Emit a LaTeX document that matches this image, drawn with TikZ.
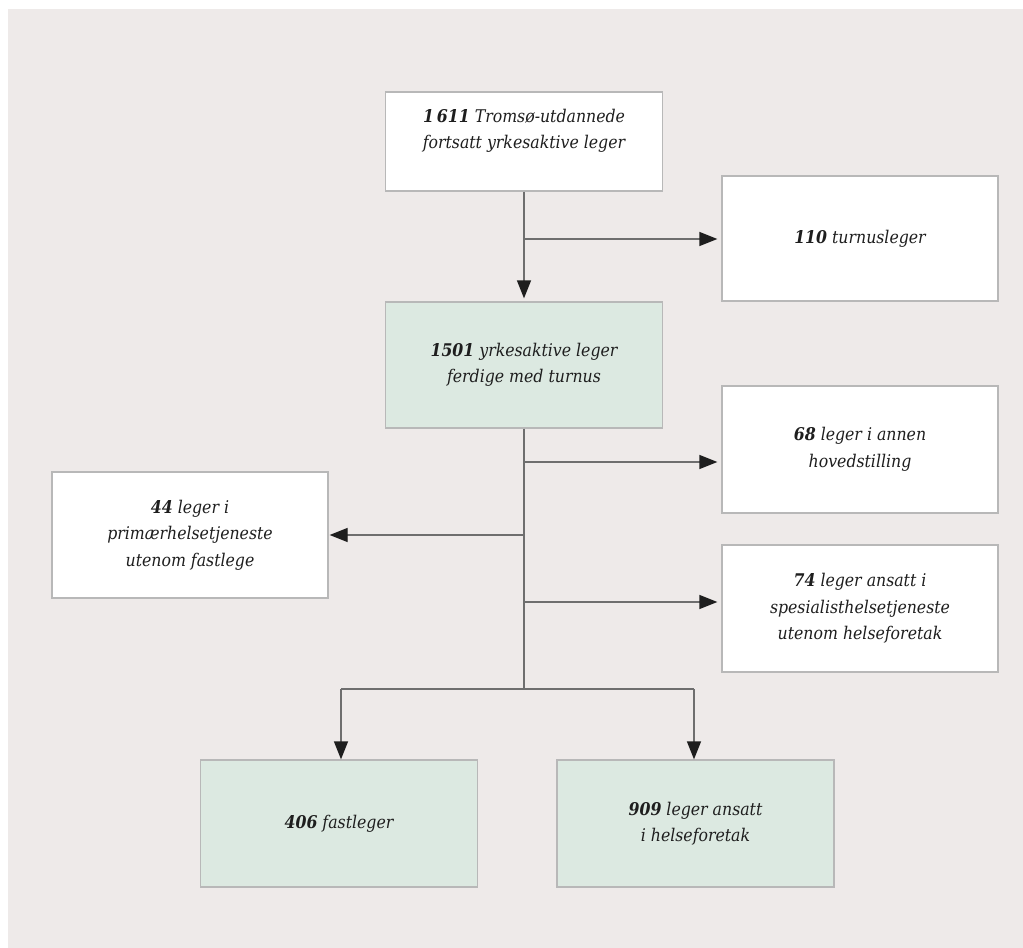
\documentclass[tikz,border=0pt]{standalone}
\usepackage{fontspec}
\setmainfont{DejaVu Serif Condensed}
\usetikzlibrary{arrows.meta}
\definecolor{bg}{HTML}{EEEAE9}
\definecolor{grn}{HTML}{DCE9E1}
\definecolor{bord}{HTML}{B8B8B8}
\definecolor{ln}{HTML}{6E6E6E}
\definecolor{tipc}{HTML}{1E1E1E}
\definecolor{txt}{HTML}{1E1E1E}
\begin{document}
\begin{tikzpicture}[x=1pt,y=-1pt,
  box/.style={draw=bord, line width=1.3pt, fill=white, minimum width=277pt, minimum height=126pt, inner sep=0pt, align=center, font=\fontsize{17.5}{26.5}\selectfont\itshape, text=txt},
  gbox/.style={box, fill=grn},
  txtnode/.style={inner sep=0pt, align=center, font=\fontsize{17.5}{26.5}\selectfont\itshape, text=txt},
  conn/.style={draw=ln, line width=1.3pt, -{Triangle[length=18pt,width=14pt,color=tipc]}},
  plain/.style={draw=ln, line width=1.3pt}]
\useasboundingbox (0,0) rectangle (1023,948);
\fill[white] (0,0) rectangle (1023,948);
\fill[bg] (8,9) rectangle (1023,948);

\node[box, minimum height=99pt] (top) at (524,141.5) {};
\node[txtnode] (toptxt) at (524,131) {{\bfseries 1\,611} Tromsø-utdannede\\fortsatt yrkesaktive leger};
\node[box, minimum width=276pt, minimum height=125pt] (turnus) at (860,238.5) {{\bfseries 110} turnusleger};
\node[gbox] (n1501) at (524,365) {{\bfseries 1501} yrkesaktive leger\\ferdige med turnus};
\node[box, minimum width=276pt, minimum height=127pt] (n68) at (860,449.5) {{\bfseries 68} leger i annen\\hovedstilling};
\node[box, minimum width=276pt] (n44) at (190,535) {{\bfseries 44} leger i\\primærhelsetjeneste\\utenom fastlege};
\node[box, minimum width=276pt, minimum height=127pt] (n74) at (860,608.5) {{\bfseries 74} leger ansatt i\\spesialisthelsetjeneste\\utenom helseforetak};
\node[gbox, minimum height=127pt] (n406) at (339,823.5) {{\bfseries 406} fastleger};
\node[gbox, minimum height=127pt] (n909) at (695.5,823.5) {{\bfseries 909} leger ansatt\\i helseforetak};

\coordinate (j1) at (524,239);
\coordinate (j2) at (524,462);
\coordinate (j3) at (524,535);
\coordinate (j4) at (524,602);
\coordinate (j5) at (524,689);
\coordinate (jl) at (341,689);
\coordinate (jr) at (694,689);

\draw[conn, shorten >=3pt] (top.south) -- (n1501.north);
\draw[conn, shorten >=4pt] (j1) -- (j1 -| turnus.west);
\draw[plain] (n1501.south) -- (j5);
\draw[conn, shorten >=4pt] (j2) -- (j2 -| n68.west);
\draw[conn, shorten >=1pt] (j3) -- (j3 -| n44.east);
\draw[conn, shorten >=4pt] (j4) -- (j4 -| n74.west);
\draw[plain, line join=miter] (jl) -- (jr);
\draw[conn] (jl) -- (jl |- n406.north);
\draw[conn] (jr) -- (jr |- n909.north);
\end{tikzpicture}
\end{document}
